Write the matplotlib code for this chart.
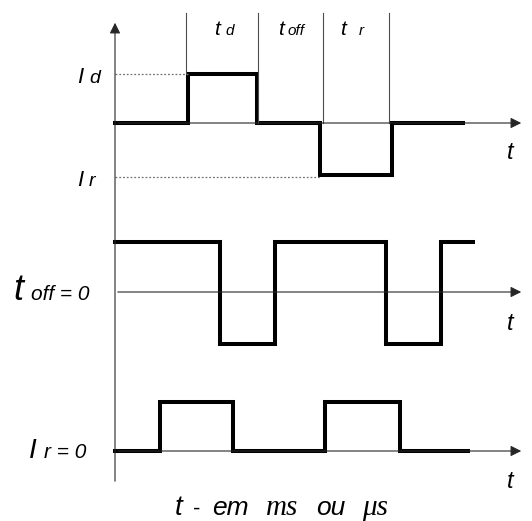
import matplotlib
matplotlib.use("Agg")
import matplotlib.pyplot as plt

# Формы сигналов: моменты переключения и уровни (в координатах рисунка)
top_t = [115, 188, 257, 320, 392, 463]
top_lvl = [123, 74, 123, 175, 123, 123]

mid_t = [115, 220, 275, 386, 441, 473]
mid_lvl = [242, 344, 242, 344, 242, 242]

bot_t = [115, 160, 233, 325, 400, 468]
bot_lvl = [451, 402, 451, 402, 451, 451]

# границы интервалов t_d, t_off, t_r
marks_x = [186, 258, 323, 389]
marks_bottom = [74, 123, 123, 123]
interval_labels = [("t", "d", 214, 225), ("t", "off", 278, 287), ("t", "r", 340, 359)]

axis_y = [123, 292, 451]
t_label_y = [159, 330, 488]
axis_x0 = 115
axis_x1 = 524

fig = plt.figure(figsize=(5.32, 5.21), dpi=100)
ax = fig.add_axes([0, 0, 1, 1])
ax.set_xlim(0, 532)
ax.set_ylim(521, 0)
ax.axis("off")

fam = "Liberation Sans"
thick = 2.9
thin = 0.8


def label(x, y, s, size, family=fam, style="italic"):
    ax.text(x, y, s, fontsize=size, style=style, family=family, ha="left", va="baseline")


# вертикальная ось со стрелкой
ax.annotate("", xy=(axis_x0, 20), xytext=(axis_x0, 484),
            arrowprops=dict(arrowstyle="-|>", lw=thin, color="0.15", mutation_scale=16))

# горизонтальные оси
for y, ty in zip(axis_y, t_label_y):
    ax.annotate("", xy=(axis_x1, y), xytext=(axis_x0, y),
                arrowprops=dict(arrowstyle="-|>", lw=thin, color="0.15", mutation_scale=16))
    label(507, ty, "t", 17)

# сигналы
for t, lvl in [(top_t, top_lvl), (mid_t, mid_lvl), (bot_t, bot_lvl)]:
    ax.plot(t, lvl, drawstyle="steps-post", color="k", lw=thick, solid_joinstyle="miter")

# пунктир к уровням Id и Ir
ax.plot([axis_x0, top_t[1]], [top_lvl[1], top_lvl[1]], ls=(0, (1.5, 1.5)), color="0.45", lw=0.9)
ax.plot([axis_x0, top_t[3]], [top_lvl[3] + 2, top_lvl[3] + 2], ls=(0, (1.5, 1.5)), color="0.45", lw=0.9)

# вертикальные метки интервалов
for x, yb in zip(marks_x, marks_bottom):
    ax.plot([x, x], [13, yb], color="0.3", lw=thin)

for a, b, xa, xb in interval_labels:
    label(xa, 35, a, 15)
    label(xb, 35, b, 11)

# подписи уровней
label(77, 83, "I", 16)
label(89, 83, "d", 14)
label(77, 186, "I", 16)
label(89, 186, "r", 14)

label(13, 300, "t", 26)
label(31, 300, "off = 0", 15)

label(29, 458, "I", 20)
label(44, 458, "r = 0", 15)

# подпись единиц времени
label(175, 515, "t", 20)
label(193, 515, "-", 16, style="normal")
label(212, 515, "em", 19)
label(266, 515, "ms", 21, family="Liberation Serif")
label(316, 515, "ou", 19)
label(362, 515, "μs", 21, family="Liberation Serif")

fig.savefig("out.png", dpi=100)
